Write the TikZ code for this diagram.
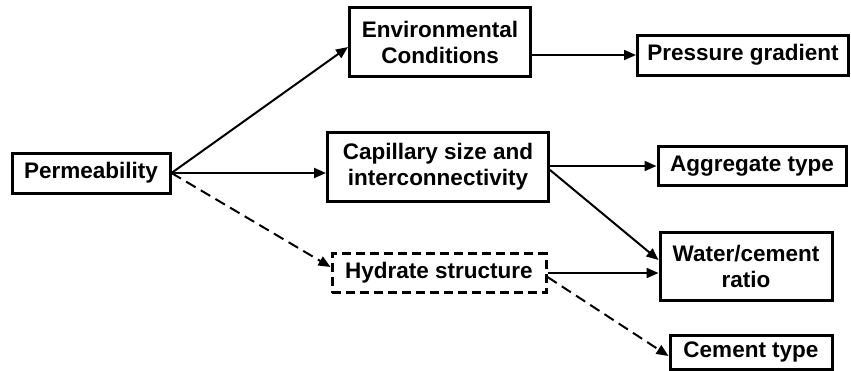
\documentclass[tikz,border=0pt]{standalone}
\usepackage{fontspec}
\setmainfont{Liberation Sans}
\usepackage{xcolor}
\usetikzlibrary{calc, positioning}
\usetikzlibrary{arrows.meta}

\begin{document}
\begin{tikzpicture}[x=1pt, y=-1pt,
	every node/.style={font=\fontsize{22.5}{26}\selectfont\bfseries, align=center, inner sep=0pt},
	box/.style={draw, line width=3pt},
	dbox/.style={box, dash pattern=on 9pt off 5pt}]
	\useasboundingbox (0,0) rectangle (851,370);

	% 定义方框
	\node[box, minimum width=158pt, minimum height=40pt] (perm) at (91,173) {Permeability};
	\node[box, minimum width=181pt, minimum height=69pt] (env) at (440,42) {Environmental\\Conditions};
	\node[box, minimum width=221pt, minimum height=69pt] (cap) at (438,167) {Capillary size and\\interconnectivity};
	\node[dbox, minimum width=214pt, minimum height=39pt] (hyd) at (439,273) {Hydrate structure};
	\node[box, minimum width=211pt, minimum height=40pt] (pg) at (743,55) {Pressure gradient};
	\node[box, minimum width=188pt, minimum height=39pt] (agg) at (752,166) {Aggregate type};
	\node[box, minimum width=172pt, minimum height=68pt] (wat) at (746,266) {Water/cement\\ratio};
	\node[box, minimum width=162pt, minimum height=34pt] (cem) at (751,352) {Cement type};

	% 绘制箭头
	\tikzset{
	arrow/.style = {arrows = {-Triangle[length=12pt, width=10pt]}, line width=2pt},
	darrow/.style = {arrow, dash pattern=on 11pt off 6pt}
	}

	\draw[arrow] (perm.east) -- ([yshift=-5pt]env.west);
	\draw[arrow] (perm.east) -- (perm.east -| cap.west);
	\draw[darrow] (perm.east) -- ([yshift=6pt]hyd.west);
	\draw[arrow] (pg.west -| env.east) -- (pg.west);
	\draw[arrow] (agg.west -| cap.east) -- (agg.west);
	\draw[arrow] ([yshift=-3pt]cap.east) -- ([yshift=6pt]wat.west);
	\draw[arrow] (hyd.east) -- (hyd.east -| wat.west);
	\draw[darrow] ([yshift=-4pt]hyd.east) -- ([yshift=-4pt]cem.west);

\end{tikzpicture}
\end{document}
